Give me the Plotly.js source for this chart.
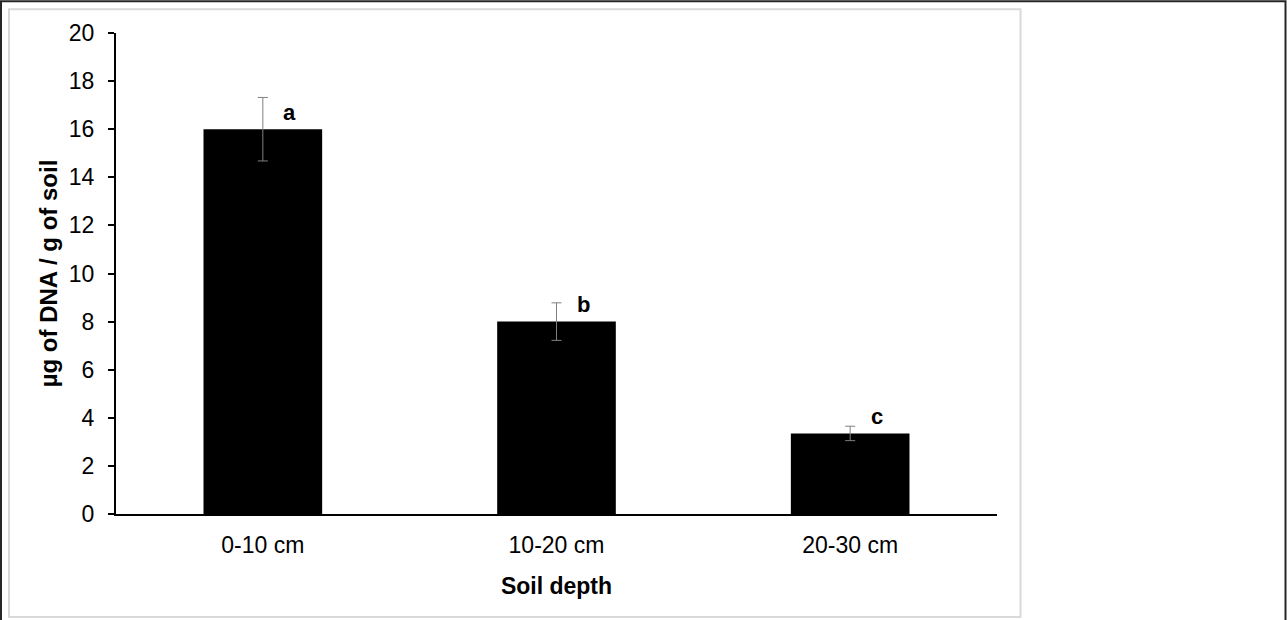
<!DOCTYPE html>
<html>
<head>
<meta charset="utf-8">
<script src="https://cdn.plot.ly/plotly-3.0.1.min.js"></script>
<style>
html,body{margin:0;padding:0;background:#fff;}
#chart{width:1287px;height:620px;}
</style>
</head>
<body>
<div id="chart"></div>
<script>
const categories = ["0-10 cm", "10-20 cm", "20-30 cm"];
const dnaValues = [16.0, 8.0, 3.35];
const errorValues = [1.32, 0.78, 0.30];
const groupLetters = ["a", "b", "c"];
const yTickValues = [0, 2, 4, 6, 8, 10, 12, 14, 16, 18, 20];

const W = 1287, H = 620;
const L = 116, R = 997, T = 32.7, B = 514;
const pw = R - L, ph = B - T;
const px = x => (x - L) / pw;
const py = y => (B - y) / ph;

const trace = {
  type: "bar",
  x: categories,
  y: dnaValues,
  marker: {color: "#000000", line: {width: 0}},
  error_y: {type: "data", array: errorValues, visible: true, color: "#808080", thickness: 1, width: 5},
  hoverinfo: "none"
};

const annotations = categories.map((c, i) => ({
  x: c, y: dnaValues[i], xref: "x", yref: "y",
  text: "<b>" + groupLetters[i] + "</b>", showarrow: false,
  xshift: 27, yshift: 17,
  xanchor: "center", yanchor: "middle",
  font: {family: "Liberation Sans, Arial, sans-serif", size: 22, color: "#000"}
}));

const shapes = [
  {type: "rect", xref: "paper", yref: "paper", x0: px(9), x1: px(1020.5), y0: py(617), y1: py(9),
   line: {color: "#d9d9d9", width: 2}, fillcolor: "rgba(0,0,0,0)", layer: "below"},
  {type: "rect", xref: "paper", yref: "paper", x0: px(1), x1: px(1285.5), y0: py(625), y1: py(1),
   line: {color: "#262626", width: 2}, fillcolor: "rgba(0,0,0,0)", layer: "below"}
];

const layout = {
  width: W, height: H,
  margin: {l: L, r: W - R, t: T, b: H - B, pad: 0},
  paper_bgcolor: "#fff", plot_bgcolor: "#fff",
  showlegend: false,
  bargap: 0.596,
  font: {family: "Liberation Sans, Arial, sans-serif", color: "#000"},
  xaxis: {
    type: "category",
    showline: true, linecolor: "#000", linewidth: 2,
    ticks: "", showgrid: false, zeroline: false,
    tickfont: {size: 23, color: "#000"},
    ticklabelstandoff: 9,
    title: {text: "<b>Soil depth</b>", font: {size: 23, color: "#000"}, standoff: 21}
  },
  yaxis: {
    range: [0, 20],
    tickvals: yTickValues,
    showline: true, linecolor: "#000", linewidth: 2,
    ticks: "outside", ticklen: 6, tickwidth: 2, tickcolor: "#000",
    showgrid: false, zeroline: false,
    tickfont: {size: 23, color: "#000"},
    ticklabelstandoff: 9,
    title: {text: "<b>µg of DNA / g of soil</b>", font: {size: 24, color: "#000"}, standoff: 4}
  },
  annotations: annotations,
  shapes: shapes
};

Plotly.newPlot("chart", [trace], layout, {displayModeBar: false, staticPlot: true});
</script>
</body>
</html>
